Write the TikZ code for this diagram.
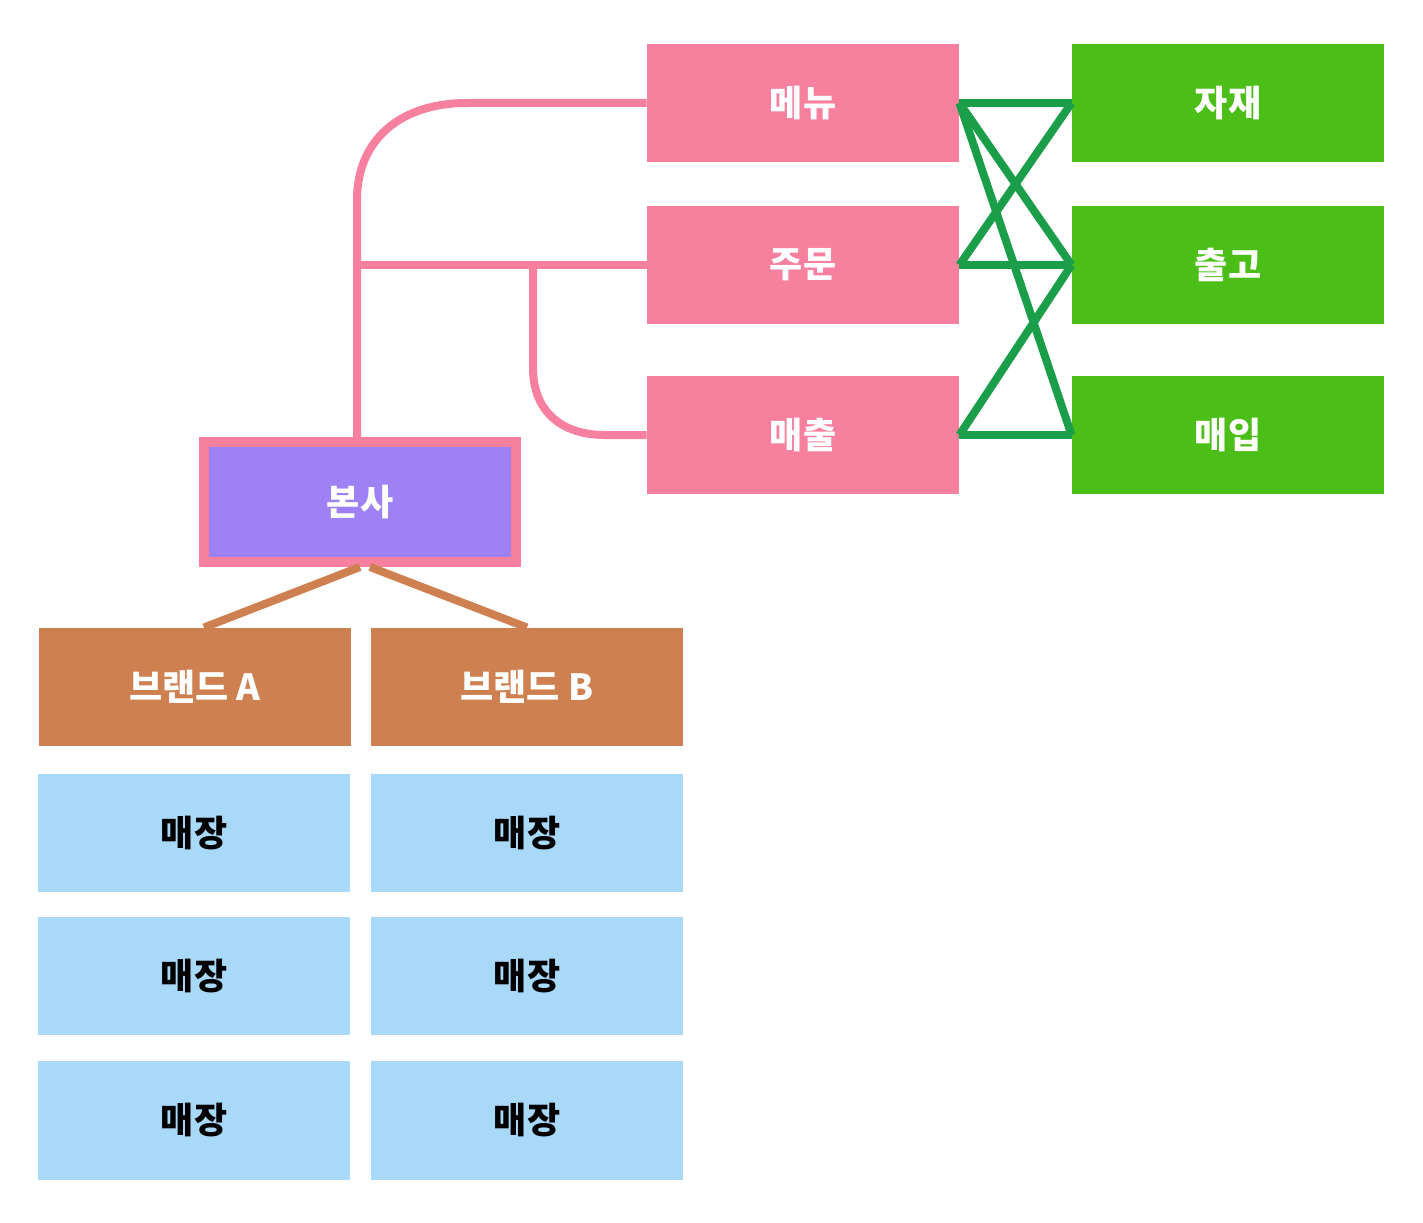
\documentclass[tikz,border=0pt]{standalone}
\usepackage{fontspec}
\setmainfont{Noto Sans CJK KR}
\definecolor{cpink}{HTML}{F7809F}
\definecolor{cgreenbox}{HTML}{4CBE18}
\definecolor{cgreenline}{HTML}{1A9E4A}
\definecolor{cpurple}{HTML}{9D81F5}
\definecolor{cbrown}{HTML}{CF8050}
\definecolor{cblue}{HTML}{A9D9F8}
\begin{document}
\begin{tikzpicture}[x=0.02cm,y=-0.02cm,
  box/.style={minimum width=6.26cm,minimum height=2.38cm,inner sep=0pt,outer sep=0pt,
    font=\fontsize{20.5}{24}\selectfont\bfseries,text=white},
  pinkbox/.style={box,fill=cpink},
  greenbox/.style={box,fill=cgreenbox},
  brandbox/.style={box,fill=cbrown},
  storebox/.style={box,fill=cblue,text=black},
  hqbox/.style={box,fill=cpurple,draw=cpink,line width=0.2cm,minimum width=6.24cm,minimum height=2.4cm,outer sep=0.1cm},
  pinkline/.style={draw=cpink,line width=0.16cm},
  greenline/.style={draw=cgreenline,line width=0.16cm},
  brownline/.style={draw=cbrown,line width=0.16cm}]
\useasboundingbox (0,0) rectangle (1423,1223);
\fill[white] (0,0) rectangle (1423,1223);
% pink boxes
\node[pinkbox] (menu) at (803,103) {메뉴};
\node[pinkbox] (order) at (803,265) {주문};
\node[pinkbox] (sales) at (803,435) {매출};
% green boxes
\node[greenbox] (mat) at (1228,103) {자재};
\node[greenbox] (ship) at (1228,265) {출고};
\node[greenbox] (buy) at (1228,435) {매입};
% HQ
\node[hqbox] (hq) at (360,502) {본사};
% brands
\node[brandbox] (bA) at (195,687) {브랜드 A};
\node[brandbox] (bB) at (527,687) {브랜드 B};
% stores
\node[storebox] (sA1) at (194,833) {매장};
\node[storebox] (sA2) at (194,976) {매장};
\node[storebox] (sA3) at (194,1120) {매장};
\node[storebox] (sB1) at (527,833) {매장};
\node[storebox] (sB2) at (527,976) {매장};
\node[storebox] (sB3) at (527,1120) {매장};
% pink connectors
\draw[pinkline] (menu.west) -- (467,103) .. controls (400,103) and (357,140) .. (357,200) -- (357,0 |- hq.north);
\draw[pinkline] (order.west) -- (357,265);
\draw[pinkline] (533,265) -- (533,368) .. controls (533,410) and (560,435) .. (605,435) -- (sales.west);
% green connectors
\draw[greenline] (menu.east) -- (mat.west);
\draw[greenline] (menu.east) -- (ship.west);
\draw[greenline] (menu.east) -- (buy.west);
\draw[greenline] (order.east) -- (mat.west);
\draw[greenline] (order.east) -- (ship.west);
\draw[greenline] (sales.east) -- (ship.west);
\draw[greenline] (sales.east) -- (buy.west);
% brown connectors
\draw[brownline] (hq.south) -- ([xshift=0.18cm]bA.north);
\draw[brownline] ([xshift=0.2cm]hq.south) -- (bB.north);
\end{tikzpicture}
\end{document}
